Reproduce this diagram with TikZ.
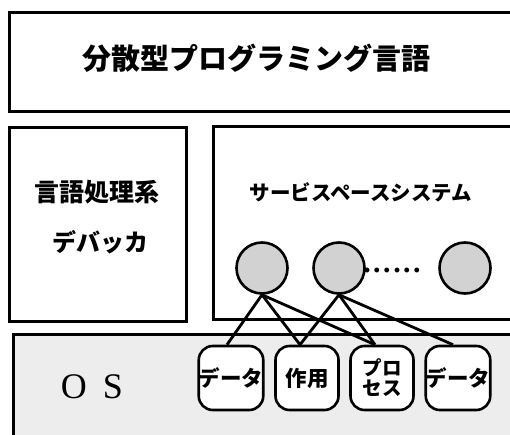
\documentclass[tikz,border=0pt]{standalone}
\usepackage{fontspec}
\newfontfamily\jp{Noto Sans CJK JP}
\setmainfont{Liberation Serif}
\begin{document}
\begin{tikzpicture}[x=1pt,y=-1pt,
  frame/.style={draw, line width=2.8pt, inner sep=0pt},
  ball/.style={circle, draw, line width=2.6pt, fill=gray!35, minimum size=51pt, inner sep=0pt},
  item/.style={draw, line width=2.6pt, rounded corners=14pt, minimum width=63pt, minimum height=64pt, inner sep=0pt, font=\jp\bfseries\fontsize{21.5}{21.5}\selectfont, align=center, fill=white},
  link/.style={line width=2.8pt}]
\useasboundingbox (0,0) rectangle (510,435);
\clip (0,0) rectangle (510,435);
% top
\node[frame, anchor=north west, minimum width=530pt, minimum height=99pt] (topbox) at (8,11) {};
\node[font=\jp\bfseries\fontsize{29}{29}\selectfont] (title) at (256,58) {分散型プログラミング言語};
% language box
\node[frame, anchor=north west, minimum width=177pt, minimum height=194pt] (lang) at (8,126) {};
\node[font=\jp\bfseries\fontsize{25}{25}\selectfont] (l1) at (97,192) {言語処理系};
\node[font=\jp\bfseries\fontsize{24}{24}\selectfont] (l2) at (100,242) {デバッカ};
% service space box
\node[frame, anchor=north west, minimum width=320pt, minimum height=193pt] (svc) at (212,125) {};
\node[font=\jp\bfseries\fontsize{20.5}{20.5}\selectfont] (svct) at (361,192) {サービスペースシステム};
% OS box
\node[frame, anchor=north west, minimum width=520pt, minimum height=110pt, fill=gray!14] (os) at (12,333) {};
\node[font=\fontsize{36}{36}\selectfont] (ost) at (92,387) {O\;\,S};
% circles
\node[ball] (c1) at (262,268) {};
\node[ball] (c2) at (339,268) {};
\node[ball] (c3) at (465,268) {};
\node[font=\bfseries\fontsize{30}{30}\selectfont] (dots) at (392,270) {.\kern2.5pt.\kern2.5pt.\kern2.5pt.\kern2.5pt.\kern2.5pt.};
% items
\node[item] (d1) at (231,378) {データ};
\node[item] (a1) at (307,378) {作用};
\node[item, font=\jp\bfseries\fontsize{19.5}{20}\selectfont] (p1) at (382,378) {プロ\\セス};
\node[item] (d2) at (458,378) {データ};
% links
\draw[link] (c1.south) -- ([xshift=-4pt]d1.north);
\draw[link] (c1.south) -- ([xshift=-7pt]a1.north);
\draw[link] (c1.south) -- ([xshift=-7pt]p1.north);
\draw[link] (c2.south) -- ([xshift=-7pt]a1.north);
\draw[link] (c2.south) -- ([xshift=-7pt]p1.north);
\draw[link] (c2.south) -- ([xshift=-5pt]d2.north);
\end{tikzpicture}
\end{document}
